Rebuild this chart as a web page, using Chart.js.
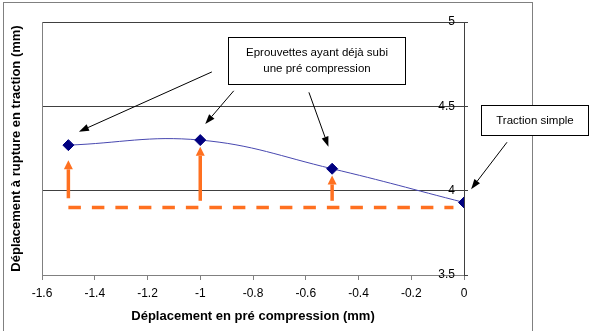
<!DOCTYPE html>
<html>
<head>
<meta charset="utf-8">
<script src="https://cdn.jsdelivr.net/npm/chart.js@4.4.0/dist/chart.umd.min.js"></script>
<style>
  body { margin: 0; background: #fff; }
  #wrap { width: 589px; height: 331px; }
</style>
</head>
<body>
<div id="wrap"><canvas id="ruptureChart" width="589" height="331"></canvas></div>
<script>
// values
const preCompression = [-1.5, -1, -0.5, 0];
const ruptureDisplacement = [4.27, 4.30, 4.13, 3.93];
const baselineX = [-1.5, -0.04];
const baselineY = [3.9, 3.9];
const xTicks = [-1.6, -1.4, -1.2, -1, -0.8, -0.6, -0.4, -0.2, 0];
const yTicks = [3.5, 4, 4.5, 5];

// orange arrows (gain compared with plain traction)
const gainX = [-1.5, -1, -0.5];
const gainFrom = [3.955, 3.94, 3.94];
const gainTo = [4.18, 4.26, 4.09];

const font = '"Liberation Sans", Arial, sans-serif';

// callouts, in data units
const callouts = [
  { lines: ['Eprouvettes ayant déjà subi', 'une pré compression'], x1: -0.895, x2: -0.225, y1: 4.91, y2: 4.63 },
  { lines: ['Traction simple'], x1: 0.063, x2: 0.47, y1: 4.51, y2: 4.33 }
];
const pointers = [
  [-0.956, 4.704, -1.46, 4.35],
  [-0.873, 4.592, -0.981, 4.395],
  [-0.588, 4.583, -0.514, 4.261],
  [0.163, 4.287, 0.027, 4.009]
];

function arrow(ctx, x1, y1, x2, y2, head, half, width, color) {
  const a = Math.atan2(y2 - y1, x2 - x1);
  const bx = x2 - head * Math.cos(a), by = y2 - head * Math.sin(a);
  ctx.strokeStyle = color;
  ctx.fillStyle = color;
  ctx.lineWidth = width;
  ctx.beginPath();
  ctx.moveTo(x1, y1);
  ctx.lineTo(bx, by);
  ctx.stroke();
  ctx.beginPath();
  ctx.moveTo(x2, y2);
  ctx.lineTo(bx + half * Math.sin(a), by - half * Math.cos(a));
  ctx.lineTo(bx - half * Math.sin(a), by + half * Math.cos(a));
  ctx.closePath();
  ctx.fill();
}

const annotations = {
  id: 'annotations',
  afterDraw(chart) {
    const ctx = chart.ctx;
    const xs = chart.scales.x, ys = chart.scales.y;
    ctx.save();
    // outer frame
    ctx.strokeStyle = '#808080';
    ctx.lineWidth = 1;
    ctx.strokeRect(3.5, 2.5, 529, 340);

    // orange arrows
    gainX.forEach((v, i) => {
      const px = xs.getPixelForValue(v);
      arrow(ctx, px, ys.getPixelForValue(gainFrom[i]), px, ys.getPixelForValue(gainTo[i]), 9, 4.5, 3.5, '#ff7020');
    });

    // black pointers
    pointers.forEach(p => {
      arrow(ctx, xs.getPixelForValue(p[0]), ys.getPixelForValue(p[1]),
        xs.getPixelForValue(p[2]), ys.getPixelForValue(p[3]), 10, 3.5, 1, '#000');
    });

    // text boxes
    callouts.forEach(c => {
      const l = Math.round(xs.getPixelForValue(c.x1)) + 0.5;
      const r = Math.round(xs.getPixelForValue(c.x2)) + 0.5;
      const t = Math.round(ys.getPixelForValue(c.y1)) + 0.5;
      const b = Math.round(ys.getPixelForValue(c.y2)) + 0.5;
      ctx.fillStyle = '#fff';
      ctx.fillRect(l, t, r - l, b - t);
      ctx.strokeStyle = '#000';
      ctx.lineWidth = 1;
      ctx.strokeRect(l, t, r - l, b - t);
      ctx.fillStyle = '#000';
      ctx.font = '11.5px ' + font;
      ctx.textAlign = 'center';
      ctx.textBaseline = 'middle';
      const cy = (t + b) / 2;
      c.lines.forEach((s, i) => {
        ctx.fillText(s, (l + r) / 2, cy + (i - (c.lines.length - 1) / 2) * 15.5);
      });
    });
    ctx.restore();
  }
};

const ctx = document.getElementById('ruptureChart').getContext('2d');
const ruptureChart = new Chart(ctx, {
  type: 'line',
  data: {
    datasets: [{
      label: 'Déplacement à rupture',
      data: preCompression.map((x, i) => ({ x: x, y: ruptureDisplacement[i] })),
      borderColor: '#4848b0',
      borderWidth: 1,
      backgroundColor: '#000080',
      pointBackgroundColor: '#000080',
      pointBorderColor: '#000080',
      pointStyle: 'rectRot',
      pointRadius: 5.5,
      pointBorderWidth: 1,
      tension: 0.4,
      order: 0
    }, {
      label: 'Traction simple',
      data: baselineX.map((x, i) => ({ x: x, y: baselineY[i] })),
      borderColor: '#ff7020',
      borderWidth: 3.5,
      borderDash: [12.5, 11],
      pointRadius: 0,
      order: 1
    }]
  },
  plugins: [annotations],
  options: {
    responsive: false,
    animation: false,
    layout: { padding: { top: 22, right: 0, bottom: 0, left: 0 } },
    plugins: {
      legend: { display: false },
      tooltip: { enabled: false }
    },
    scales: {
      x: {
        type: 'linear',
        min: -1.6,
        max: 0,
        afterBuildTicks: s => { s.ticks = xTicks.map(v => ({ value: v })); },
        afterFit: s => { s.height = 56; },
        grid: { drawOnChartArea: false, tickLength: 5, color: '#808080' },
        border: { color: '#808080' },
        ticks: {
          color: '#000', padding: 6, maxRotation: 0, autoSkip: false,
          font: { size: 12, family: font },
          callback: v => String(v)
        },
        title: {
          display: true,
          text: 'Déplacement en pré compression (mm)',
          color: '#000',
          font: { size: 13, weight: 'bold', family: font },
          padding: { top: 0, bottom: 7 }
        }
      },
      y: {
        type: 'linear',
        position: 'right',
        min: 3.5,
        max: 5,
        afterBuildTicks: s => { s.ticks = yTicks.map(v => ({ value: v })); },
        afterFit: s => { s.width = 125; },
        grid: { color: '#404040', tickLength: 4 },
        border: { color: '#404040' },
        ticks: {
          mirror: true, padding: -9, color: '#000',
          font: { size: 12, family: font },
          callback: v => String(v)
        }
      },
      yTitle: {
        type: 'linear',
        position: 'left',
        min: 0,
        max: 1,
        afterFit: s => { s.width = 42; },
        grid: { display: false },
        border: { display: true, color: '#808080' },
        ticks: { display: false },
        title: {
          display: true,
          text: 'Déplacement à rupture en traction (mm)',
          color: '#000',
          font: { size: 13, weight: 'bold', family: font },
          padding: { top: 9, bottom: 0 }
        }
      }
    }
  }
});
</script>
</body>
</html>
